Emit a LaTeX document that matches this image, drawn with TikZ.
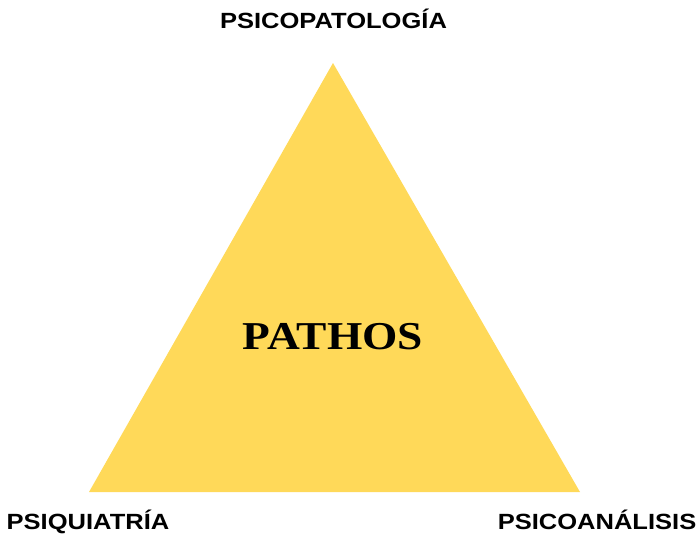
\documentclass[tikz,border=0pt]{standalone}
\usepackage{fontspec}
\setmainfont{Liberation Serif}
\newfontfamily\labelfont[FakeStretch=1.16]{Liberation Sans}
\newfontfamily\titlefont[FakeStretch=1.15]{Liberation Serif}
\usetikzlibrary{positioning}
\definecolor{pathosyellow}{HTML}{FFD959}
\tikzset{vertexlabel/.style={font=\labelfont\bfseries\fontsize{22}{26}\selectfont, text=black, inner sep=0pt}}

\begin{document}
\begin{tikzpicture}[x=1pt,y=-1pt]
  \useasboundingbox (0,0) rectangle (700,536);
  \coordinate (top) at (333,63);
  \coordinate (left) at (89,492);
  \coordinate (right) at (580,492);
  \fill[pathosyellow] (top) -- (left) -- (right) -- cycle;
  \node[font=\titlefont\bfseries\fontsize{39.5}{46}\selectfont, inner sep=0pt, anchor=base] (pathos) at (333,349) {PATHOS};
  \node[vertexlabel, anchor=base] (psicopatologia) at (333.5,28.5) {PSICOPATOLOGÍA};
  \node[vertexlabel, anchor=base west] (psiquiatria) at (6.5,529) {PSIQUIATRÍA};
  \node[vertexlabel, anchor=base east] (psicoanalisis) at (696.5,529) {PSICOANÁLISIS};
\end{tikzpicture}
\end{document}
